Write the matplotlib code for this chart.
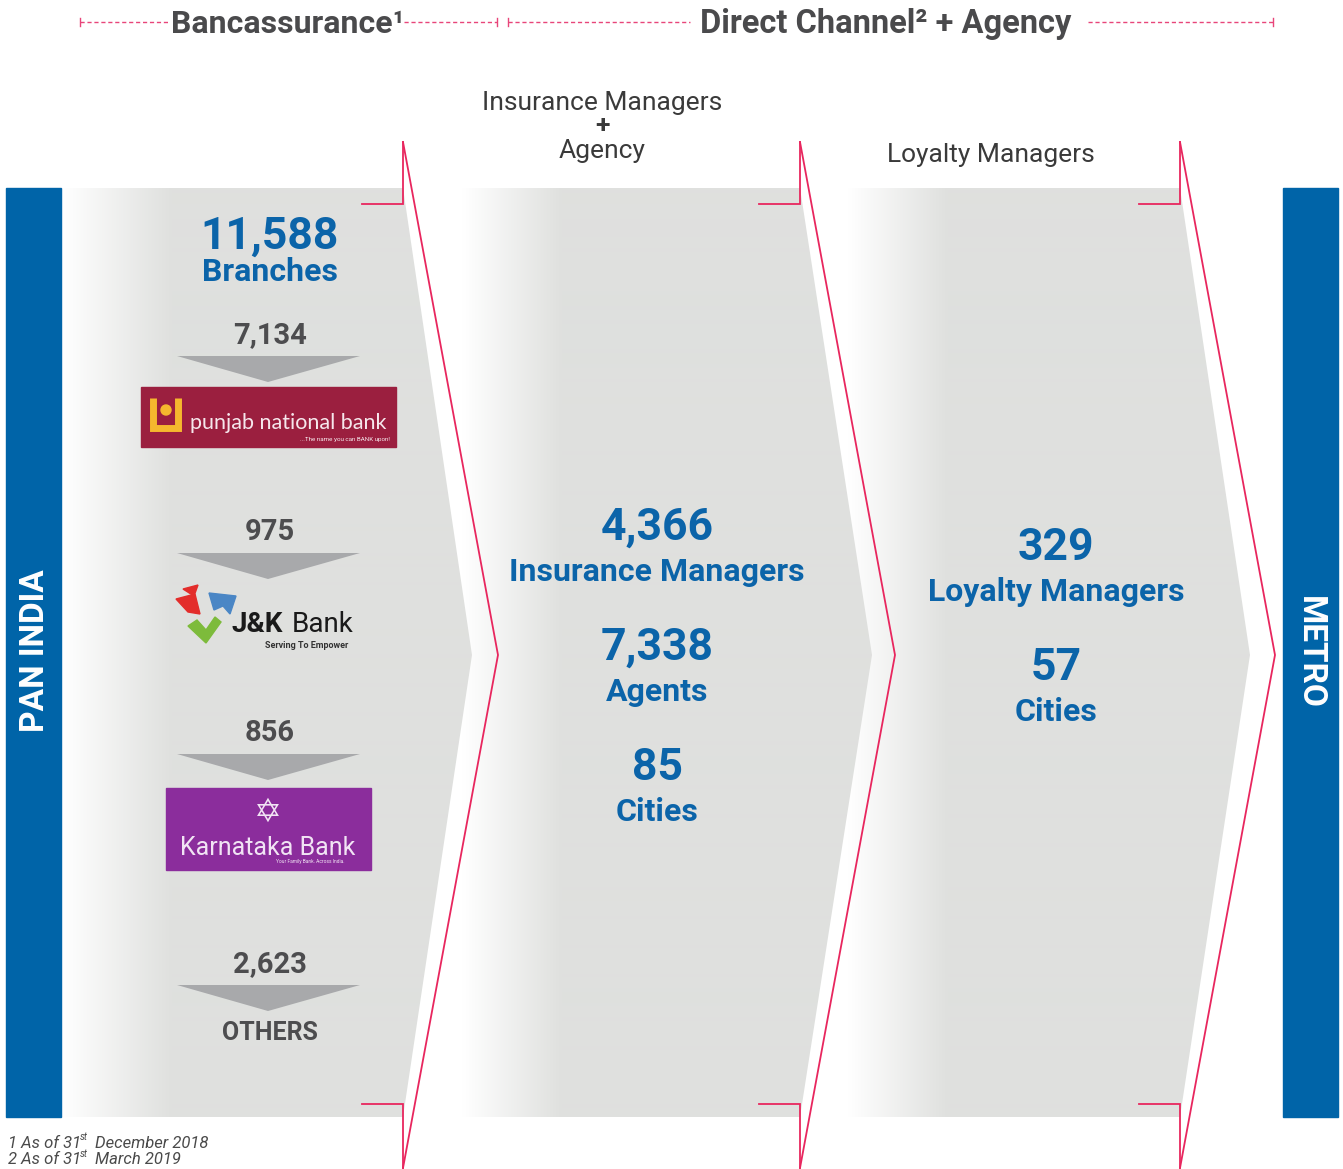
import numpy as np
import matplotlib.pyplot as plt
from matplotlib.patches import Polygon, Rectangle, Circle
from matplotlib.colors import LinearSegmentedColormap

# data
branches_total = 11588
bank_counts = [7134, 975, 856, 2623]
bank_names = ["punjab national bank", "J&K", "Bank", "Karnataka Bank", "OTHERS"]
agency_values = [4366, 7338, 85]
agency_labels = ["Insurance Managers", "Agents", "Cities"]
loyalty_values = [329, 57]
loyalty_labels = ["Loyalty Managers", "Cities"]
footnotes = [("1 As of 31", "st", "December 2018"), ("2 As of 31", "st", "March 2019")]

W, H = 1343, 1169
BLUE = "#0b64a9"
BAR = "#0064a8"
GREYTXT = "#4d4d4f"
RED = "#e8265e"
PINK = "#e8457a"
FONT = "Roboto"

fig = plt.figure(figsize=(W / 100, H / 100), dpi=100)
ax = fig.add_axes([0, 0, 1, 1])
ax.axis("off")

cmap = LinearSegmentedColormap.from_list("fade", ["#ffffff", "#dfe0de"])


def chevron(x0, x1, tip, ramp):
    pts = [(x0, 188), (x1, 188), (tip, 655), (x1, 1117), (x0, 1117)]
    poly = Polygon(pts, closed=True, fc="none", ec="none")
    ax.add_patch(poly)
    grad = np.clip((np.arange(x0, tip) - x0) / ramp, 0, 1)[None, :]
    im = ax.imshow(grad, cmap=cmap, vmin=0, vmax=1, aspect="auto",
                   extent=(x0, tip, 1117, 188), interpolation="bilinear")
    im.set_clip_path(poly)


def red_arrow(x, tip):
    kw = dict(color=RED, lw=1.3, solid_joinstyle="miter")
    ax.plot([x - 41, x, x], [204, 204, 142], **kw)
    ax.plot([x, tip, x], [142, 655, 1168], **kw)
    ax.plot([x - 41, x, x], [1104, 1104, 1168], **kw)


# right to left so each tip sits over the next panel's fade
chevron(848, 1180, 1250, 100)
chevron(462, 800, 872, 100)
chevron(62, 403, 472, 110)
red_arrow(403, 498)
red_arrow(800, 895)
red_arrow(1180, 1275)

# side bars
ax.add_patch(Rectangle((6, 188), 55, 929, color=BAR))
ax.add_patch(Rectangle((1283, 188), 55, 929, color=BAR))
ax.text(35, 651, "PAN INDIA", rotation=90, color="white", fontsize=24,
        fontweight="bold", family=FONT, ha="center", va="center")
ax.text(1310, 652, "METRO", rotation=-90, color="white", fontsize=24,
        fontweight="bold", family=FONT, ha="center", va="center")

# header
dash = dict(color=PINK, lw=1.0, linestyle=(0, (3, 2)))
for a, b in [(80, 170), (404, 497), (508, 690), (1088, 1273)]:
    ax.plot([a, b], [22, 22], **dash)
for x in [80, 497, 508, 1273]:
    ax.plot([x, x], [18, 26], color=PINK, lw=1.0)
ax.text(288, 24, "Bancassurance\u00b9", fontsize=23, fontweight="bold",
        family=FONT, color="#4a4a4c", ha="center", va="center")
ax.text(886, 24, "Direct Channel\u00b2 + Agency", fontsize=23.5, fontweight="bold",
        family=FONT, color="#4a4a4c", ha="center", va="center")

sub = dict(fontsize=19, family=FONT, color="#3a3a3a", ha="center", va="center")
ax.text(602, 103, "Insurance Managers", **sub)
ax.text(602, 126, "+", fontweight="bold", **sub)
ax.text(602, 151, "Agency", **sub)
ax.text(991, 155, "Loyalty Managers", **sub)

big = dict(fontsize=32, fontweight="bold", family=FONT, color=BLUE, ha="center", va="center")
lab = dict(fontsize=23, fontweight="bold", family=FONT, color=BLUE, ha="center", va="center")

# bancassurance column
ax.text(270, 237, f"{branches_total:,}", **big)
ax.text(270, 272, "Branches", **lab)

count_y = [335, 532, 733, 964]
for v, y in zip(bank_counts, count_y):
    ax.text(270, y, f"{v:,}", fontsize=21, fontweight="bold", family=FONT,
            color=GREYTXT, ha="center", va="center")
    ax.add_patch(Polygon([(177, y + 21), (360, y + 21), (268, y + 47)],
                         closed=True, color="#a8a9ab", lw=0))

# punjab national bank
ax.add_patch(Rectangle((141, 387), 255, 60, color="#9b1f3f"))
ax.plot([153, 153, 178, 178], [398, 428, 428, 398], color="#f5b82e", lw=5,
        solid_capstyle="butt", solid_joinstyle="miter")
ax.add_patch(Circle((166, 410), 5, color="#f5b82e"))
ax.text(190, 423, bank_names[0], fontsize=15.5, family="Lato", color="#f6e7ec",
        ha="left", va="center")
ax.text(390, 439, "...The name you can BANK upon!", fontsize=4.5, family=FONT,
        color="#f6e7ec", ha="right", va="center")

# J&K bank
ax.add_patch(Polygon([(176, 599), (195, 594), (200, 614), (188, 612)], color="#e32d2b"))
ax.add_patch(Polygon([(183, 589), (198, 585), (194, 596)], color="#e32d2b"))
ax.add_patch(Polygon([(209, 593), (236, 596), (230, 614), (223, 606), (214, 610)], color="#4a86c5"))
ax.add_patch(Polygon([(188, 626), (197, 620), (206, 630), (215, 617), (221, 622),
                      (206, 643)], color="#7dbb3b"))
ax.text(232, 625, bank_names[1], fontsize=20, fontweight="bold", family=FONT,
        color="#1a1a1a", ha="left", va="center")
ax.text(292, 625, bank_names[2], fontsize=20, family=FONT, color="#1a1a1a",
        ha="left", va="center")
ax.text(307, 646, "Serving To Empower", fontsize=6.5, fontweight="bold",
        family=FONT, color="#333333", ha="center", va="center")

# karnataka bank
ax.add_patch(Rectangle((166, 788), 205, 82, color="#8b2d9c"))
ax.text(268, 812, "\u2721", fontsize=24, family="DejaVu Sans", color="#f1e4f4",
        ha="center", va="center")
ax.text(268, 848, bank_names[3], fontsize=18, family=FONT, color="#f1e4f4",
        ha="center", va="center")
ax.text(310, 862, "Your Family Bank. Across India.", fontsize=3.5, family=FONT,
        color="#f1e4f4", ha="center", va="center")

ax.text(270, 1033, bank_names[4], fontsize=18, fontweight="bold", family=FONT,
        color=GREYTXT, ha="center", va="center")

# direct channel + agency
for v, t, y in zip(agency_values, agency_labels, [528, 648, 768]):
    ax.text(657, y, f"{v:,}", **big)
    ax.text(657, y + 44, t, **lab)

for v, t, y in zip(loyalty_values, loyalty_labels, [548, 668]):
    ax.text(1056, y, f"{v:,}", **big)
    ax.text(1056, y + 44, t, **lab)

# footnotes
foot = dict(style="italic", family=FONT, color="#4a4a4a", ha="left", va="center")
for (a, s, b), y in zip(footnotes, [1143, 1160]):
    ax.text(8, y, a, fontsize=12, **foot)
    ax.text(80, y - 6, s, fontsize=7, **foot)
    ax.text(95, y, b, fontsize=12, **foot)

ax.set_xlim(0, W)
ax.set_ylim(H, 0)
fig.savefig("out.png", dpi=100, facecolor="white")
